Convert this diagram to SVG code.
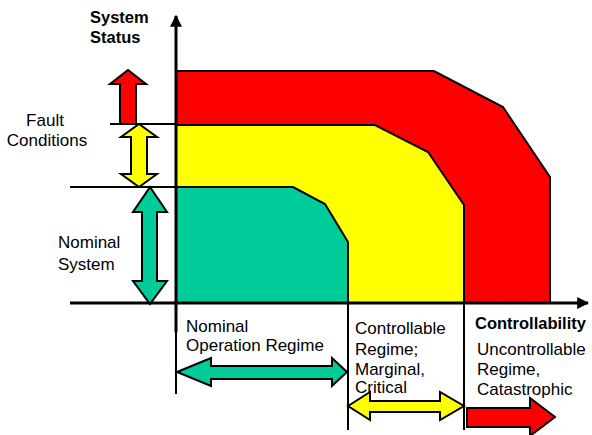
<svg xmlns="http://www.w3.org/2000/svg" width="592" height="435" viewBox="0 0 592 435">
  <style>
    .region { stroke: #000; stroke-width: 2; stroke-linejoin: miter; }
    .red { fill: #FF0000; }
    .yellow { fill: #FFFF00; }
    .green { fill: #00CC99; }
    .arrow { stroke: #000; stroke-width: 2; stroke-linejoin: miter; }
    .line { stroke: #000; stroke-width: 2; fill: none; }
    .axis { stroke: #000; stroke-width: 3; fill: none; }
    text { font-family: "Liberation Sans", Arial, sans-serif; font-size: 17px; fill: #000; }
    .bold { font-weight: bold; font-size: 16.5px; }
  </style>
  <defs>
    <marker id="axisHead" viewBox="0 0 10 10" refX="9" refY="5" markerWidth="4" markerHeight="4" orient="auto" markerUnits="strokeWidth">
      <path d="M0,0 L10,5 L0,10 Z" fill="#000"/>
    </marker>
  </defs>

  <!-- regime regions -->
  <g id="fault-region">
    <polygon class="region red" points="176,71 434,71 503,107 550,177 550,303 176,303"/>
  </g>
  <g id="marginal-region">
    <polygon class="region yellow" points="176,125 375,125 428,152 464,205 464,303 176,303"/>
  </g>
  <g id="nominal-region">
    <polygon class="region green" points="176,187 293,187 325,204 348,242 348,303 176,303"/>
  </g>

  <!-- axes, level lines and regime dividers -->
  <g id="connectors">
    <line class="line" x1="110" y1="124" x2="176" y2="124"/>
    <line class="line" x1="70" y1="187" x2="176" y2="187"/>
    <line class="axis" x1="70" y1="303" x2="588" y2="303" marker-end="url(#axisHead)"/>
    <line class="axis" x1="176" y1="332" x2="176" y2="16" marker-end="url(#axisHead)"/>
    <line class="line" x1="176" y1="330" x2="176" y2="394"/>
    <line class="line" x1="348" y1="303" x2="348" y2="430"/>
    <line class="line" x1="464" y1="303" x2="464" y2="430"/>
  </g>

  <!-- status level arrows -->
  <g id="fault-up-arrow">
    <polygon class="arrow red" points="128,70 146,84 136,84 136,124 120,124 120,84 110,84"/>
  </g>
  <g id="marginal-double-arrow">
    <polygon class="arrow yellow" points="139,124 157,137 147,137 147,174 157,174 139,187 121,174 131,174 131,137 121,137"/>
  </g>
  <g id="nominal-double-arrow">
    <polygon class="arrow green" points="150,187 167,212 157,212 157,281 167,281 150,304 133,281 142,281 142,212 133,212"/>
  </g>

  <!-- controllability regime arrows -->
  <g id="nominal-regime-arrow">
    <polygon class="arrow green" points="177,372 211,358 211,366 332,366 332,358 347,372 332,386 332,379 211,379 211,386"/>
  </g>
  <g id="marginal-regime-arrow">
    <polygon class="arrow yellow" points="348,406 370,392 370,401 440,401 440,392 464,406 440,420 440,412 370,412 370,420"/>
  </g>
  <g id="catastrophic-regime-arrow">
    <polygon class="arrow red" points="467,408 530,408 530,398 555,417 530,436 530,427 467,427"/>
  </g>

  <!-- labels -->
  <g id="labels">
    <text class="bold" x="90" y="23">System</text>
    <text class="bold" x="90" y="43">Status</text>
    <text x="45" y="126" text-anchor="middle">Fault</text>
    <text x="47" y="146" text-anchor="middle">Conditions</text>
    <text x="58" y="248">Nominal</text>
    <text x="58" y="270">System</text>
    <text x="186" y="332">Nominal</text>
    <text x="186" y="351">Operation Regime</text>
    <text x="355" y="334">Controllable</text>
    <text x="355" y="355">Regime;</text>
    <text x="355" y="375">Marginal,</text>
    <text x="355" y="393">Critical</text>
    <text class="bold" x="475" y="329">Controllability</text>
    <text x="477" y="355">Uncontrollable</text>
    <text x="477" y="375">Regime,</text>
    <text x="477" y="395">Catastrophic</text>
  </g>
</svg>
